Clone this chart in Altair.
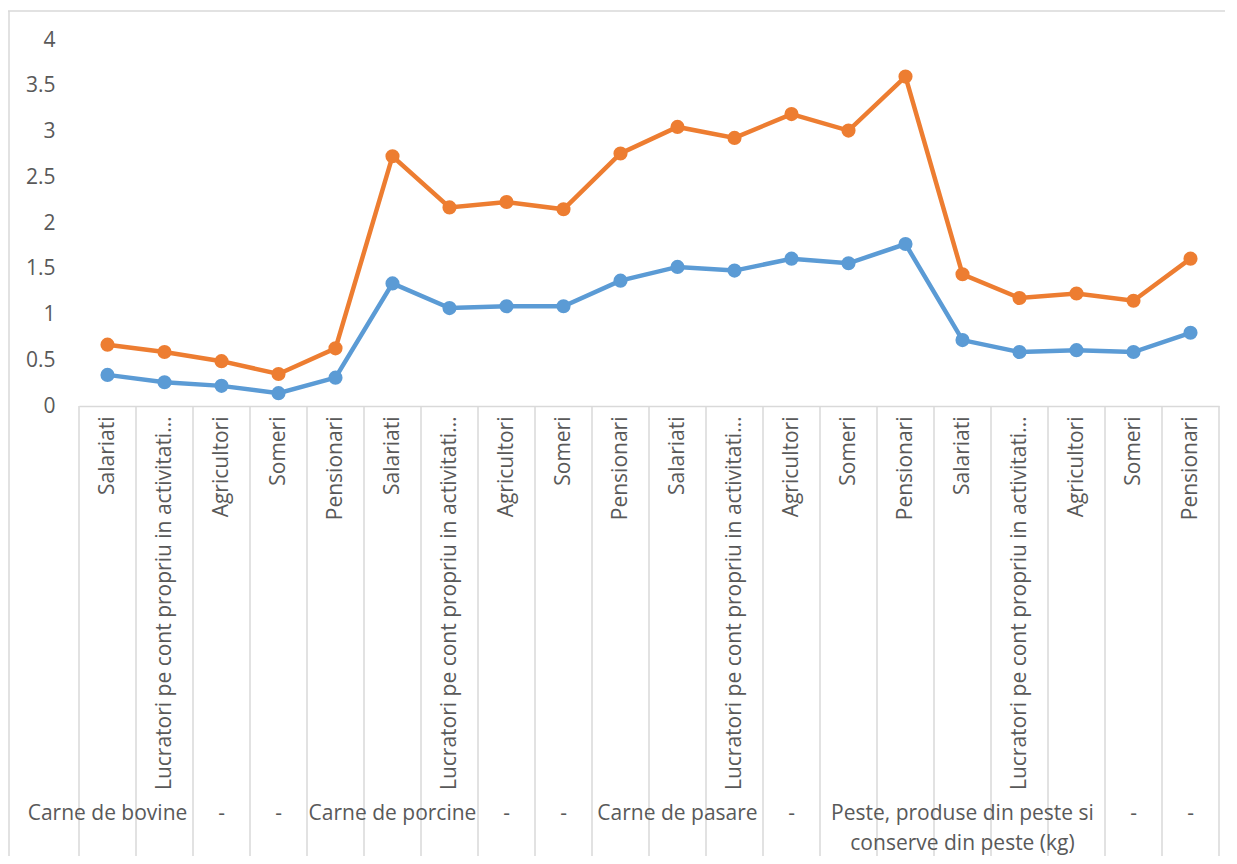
import json
import altair as alt
import pandas as pd

# ---- data ----
subcategories = [
    "Salariati", "Lucratori pe cont propriu in activitati neagricole", "Agricultori", "Someri", "Pensionari",
    "Salariati", "Lucratori pe cont propriu in activitati neagricole", "Agricultori", "Someri", "Pensionari",
    "Salariati", "Lucratori pe cont propriu in activitati neagricole", "Agricultori", "Someri", "Pensionari",
    "Salariati", "Lucratori pe cont propriu in activitati neagricole", "Agricultori", "Someri", "Pensionari",
]
group_labels = [
    "Carne de bovine", "", "-", "-", "",
    "Carne de porcine", "", "-", "-", "",
    "Carne de pasare", "", "-", "", "",
    "Peste, produse din peste si\nconserve din peste (kg)", "", "", "-", "-",
]
series_names = ["Seria 1", "Seria 2"]
series1 = [0.34, 0.26, 0.22, 0.14, 0.31, 1.34, 1.07, 1.09, 1.09, 1.37,
           1.52, 1.48, 1.61, 1.56, 1.77, 0.72, 0.59, 0.61, 0.59, 0.80]
series2 = [0.67, 0.59, 0.49, 0.35, 0.63, 2.73, 2.17, 2.23, 2.15, 2.76,
           3.05, 2.93, 3.19, 3.01, 3.60, 1.44, 1.18, 1.23, 1.15, 1.61]
y_ticks = [0, 0.5, 1, 1.5, 2, 2.5, 3, 3.5, 4]
series_colors = ["#5B9BD5", "#ED7D31"]

n = len(subcategories)
rows = []
for name, vals in zip(series_names, [series1, series2]):
    for i, v in enumerate(vals):
        rows.append({"pos": i + 0.5, "serie": name, "value": v})
df = pd.DataFrame(rows)

bounds = pd.DataFrame({"b": list(range(n + 1))})
groups = pd.DataFrame({"pos": [i + 0.5 for i in range(n)], "label": group_labels})
groups = groups[groups["label"] != ""]

FONT = "Open Sans"
GRAY = "#595959"
LINEC = "#D9D9D9"

label_expr = json.dumps(subcategories) + "[floor(datum.value)]"

xscale = alt.Scale(domain=[0, n], nice=False, zero=False)
yscale = alt.Scale(domain=[0, 4], nice=False)

x_axis = alt.Axis(
    values=[i + 0.5 for i in range(n)], labelExpr=label_expr, title=None,
    labelAngle=270, labelAlign="right", labelBaseline="middle",
    labelFont=FONT, labelFontSize=21, labelColor=GRAY, labelPadding=10,
    labelLimit=374, labelFlush=False, labelOverlap=False, labelBound=False,
    ticks=False, grid=False, domain=True, domainColor=LINEC, domainWidth=1.5,
)
y_axis = alt.Axis(
    values=y_ticks, format="~g", title=None, ticks=False, domain=False, grid=False,
    labelFont=FONT, labelFontSize=21, labelColor=GRAY, labelPadding=24,
)

color = alt.Color("serie:N", scale=alt.Scale(domain=series_names, range=series_colors), legend=None)

lines = alt.Chart(df).mark_line(strokeWidth=4.5).encode(
    x=alt.X("pos:Q", scale=xscale, axis=x_axis),
    y=alt.Y("value:Q", scale=yscale, axis=y_axis),
    color=color,
    detail="serie:N",
)
points = alt.Chart(df).mark_point(filled=True, size=200, opacity=1).encode(
    x=alt.X("pos:Q", scale=xscale),
    y=alt.Y("value:Q", scale=yscale),
    color=color,
)

separators = alt.Chart(bounds).mark_rule(color=LINEC, strokeWidth=1.5).encode(
    x=alt.X("b:Q", scale=xscale),
    y=alt.value(366),
    y2=alt.value(818),
)

group_text = alt.Chart(groups).mark_text(
    font=FONT, fontSize=21, color=GRAY, align="center", baseline="alphabetic",
    lineBreak="\n", lineHeight=30,
).encode(
    x=alt.X("pos:Q", scale=xscale),
    y=alt.value(780),
    text="label:N",
)

frame_data = alt.Data(values=[{"k": 1}])
frame_top = alt.Chart(frame_data).mark_rule(color=LINEC, strokeWidth=1.5).encode(
    x=alt.value(-71), x2=alt.value(1160), y=alt.value(-29)
)
frame_left = alt.Chart(frame_data).mark_rule(color=LINEC, strokeWidth=1.5).encode(
    x=alt.value(-70), y=alt.value(-29), y2=alt.value(900)
)

chart = alt.layer(frame_top, frame_left, separators, group_text, lines, points).properties(
    width=1140, height=366,
    padding={"left": 71, "top": 32, "right": 6, "bottom": 450},
    autosize=alt.AutoSizeParams(type="none"),
    background="white",
).configure_view(stroke=None)

chart.save("out.html", embed_options={"renderer": "svg", "actions": False})
